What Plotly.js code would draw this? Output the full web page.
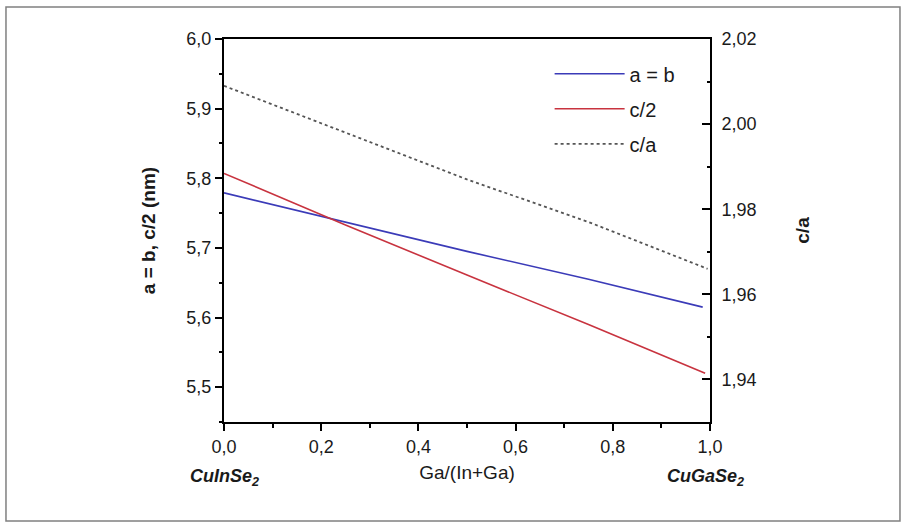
<!DOCTYPE html>
<html><head><meta charset="utf-8">
<script src="https://cdn.plot.ly/plotly-3.0.1.min.js"></script>
<style>html,body{margin:0;padding:0;background:#fff}#plot{width:907px;height:528px}</style>
</head><body><div id="plot"></div>
<script>
// Data
const xAB = [0.0, 0.25, 0.5, 0.75, 0.985];
const yAB = [5.779, 5.737, 5.695, 5.655, 5.615];
const xC2 = [0.0, 0.25, 0.5, 0.75, 0.99];
const yC2 = [5.807, 5.733, 5.661, 5.590, 5.520];
const xCA = [0.0, 0.25, 0.5, 0.75, 0.995];
const yCA = [2.009, 1.998, 1.987, 1.977, 1.966];
const names = ['a = b', 'c/2', 'c/a'];
const xTickVals = [0, 0.2, 0.4, 0.6, 0.8, 1.0];
const yTickVals = [5.5, 5.6, 5.7, 5.8, 5.9, 6.0];
const y2TickVals = [1.94, 1.96, 1.98, 2.00, 2.02];

const font = {family: 'Liberation Sans, Arial, sans-serif', color: '#1a1a1a'};
const f = s => Object.assign({size: s}, font);
const traces = [
  {x: xAB, y: yAB, name: names[0], legendgroup: 'g1', mode: 'lines', line: {color: '#3b3bb8', width: 1.6}},
  {x: xC2, y: yC2, name: names[1], legendgroup: 'g2', mode: 'lines', line: {color: '#c8333f', width: 1.6}},
  {x: xCA, y: yCA, name: names[2], legendgroup: 'g3', yaxis: 'y2', mode: 'lines', line: {color: '#555555', width: 1.8, dash: 'dot'}}
];
const layout = {
  width: 907, height: 528,
  margin: {l: 224, r: 197, t: 39, b: 106},
  separators: ',.',
  paper_bgcolor: '#fff', plot_bgcolor: '#fff',
  font: f(17),
  showlegend: true,
  legend: {x: 0.67, y: 0.96, xanchor: 'left', yanchor: 'top', bgcolor: 'rgba(0,0,0,0)',
           font: f(20), tracegroupgap: 6, itemwidth: 70},
  xaxis: {range: [0, 1], tickvals: xTickVals, tickformat: '.1f', showline: true, linecolor: '#000', linewidth: 2,
          mirror: true, ticks: 'outside', ticklen: 7, tickwidth: 2, tickcolor: '#000', showgrid: false, zeroline: false,
          minor: {dtick: 0.1, ticks: 'outside', ticklen: 4, tickwidth: 2, tickcolor: '#000'},
          tickfont: f(18),
          title: {text: 'Ga/(In+Ga)', font: f(19), standoff: 10}},
  yaxis: {range: [5.45, 6.0], tickvals: yTickVals, tickformat: '.1f', showline: true, linecolor: '#000', linewidth: 2,
          ticks: 'outside', ticklen: 7, tickwidth: 2, tickcolor: '#000', showgrid: false, zeroline: false,
          minor: {dtick: 0.05, ticks: 'outside', ticklen: 3, tickwidth: 2, tickcolor: '#000'},
          tickfont: f(18),
          title: {text: '<b>a = b, c/2 (nm)</b>', font: f(19), standoff: 26}},
  yaxis2: {range: [1.93, 2.02], overlaying: 'y', side: 'right', tickvals: y2TickVals, tickformat: '.2f',
          showline: true, linecolor: '#000', linewidth: 2, ticks: 'inside', ticklen: 8, tickwidth: 2, tickcolor: '#000',
          showgrid: false, zeroline: false, ticklabelstandoff: 6,
          minor: {dtick: 0.01, ticks: 'inside', ticklen: 3, tickwidth: 2, tickcolor: '#000'},
          tickfont: f(18),
          title: {text: '<b>c/a</b>', font: f(19), standoff: 40}},
  annotations: [
    {xref: 'paper', yref: 'paper', x: 0.0, y: -0.11, xanchor: 'center', yanchor: 'top', showarrow: false,
     text: '<b><i>CuInSe<sub>2</sub></i></b>', font: f(18)},
    {xref: 'paper', yref: 'paper', x: 0.99, y: -0.11, xanchor: 'center', yanchor: 'top', showarrow: false,
     text: '<b><i>CuGaSe<sub>2</sub></i></b>', font: f(18)}
  ],
  shapes: [
    {type: 'rect', xref: 'paper', yref: 'paper', x0: -0.4486, x1: 1.3909, y0: -0.2585, y1: 1.0836,
     line: {color: '#808080', width: 1.5}, fillcolor: 'rgba(0,0,0,0)', layer: 'below'}
  ]
};
Plotly.newPlot('plot', traces, layout, {displayModeBar: false, staticPlot: true});
</script></body></html>
